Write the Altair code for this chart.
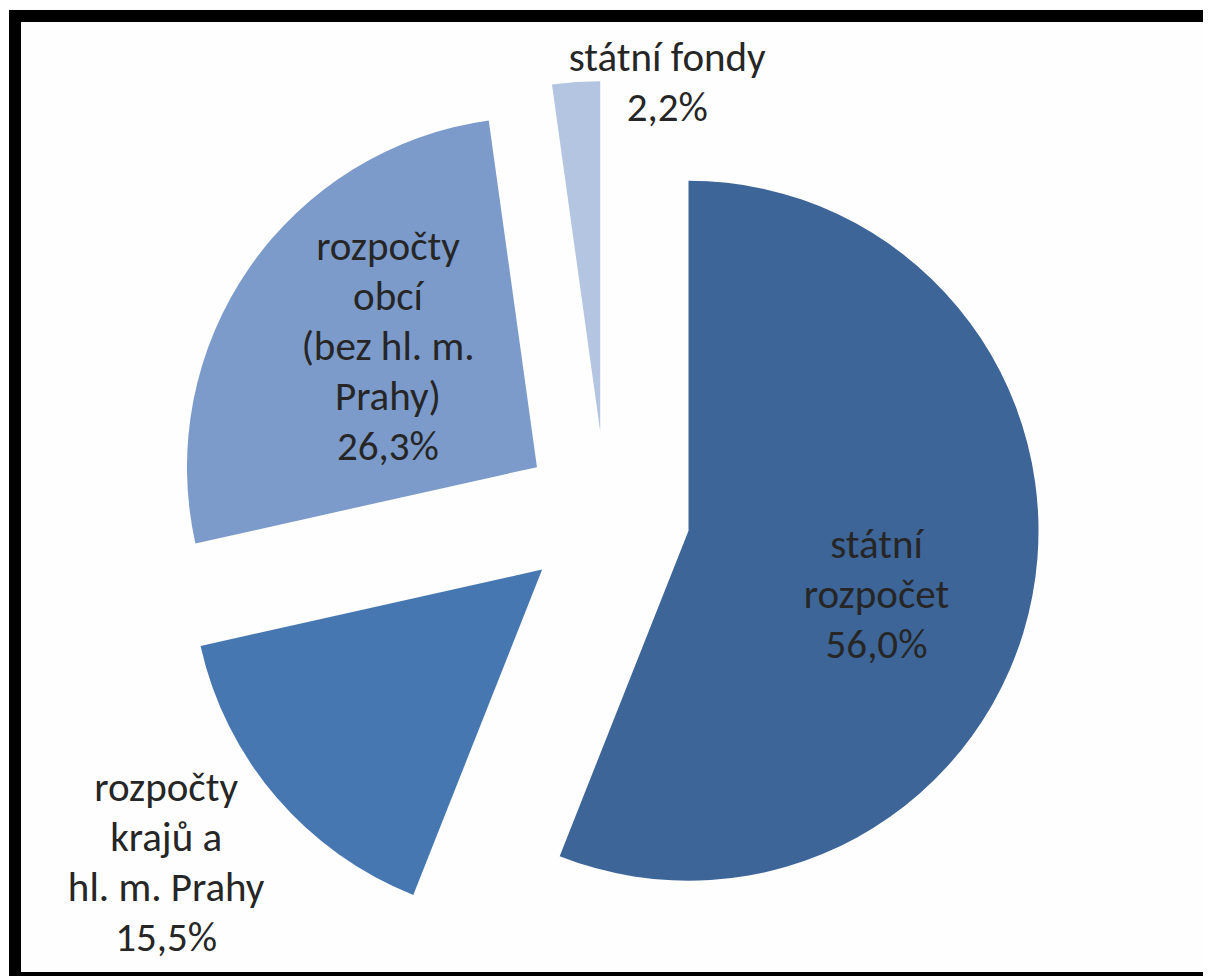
import math
import altair as alt
import pandas as pd

# ---- data ----
categories = [
    "státní rozpočet",
    "rozpočty krajů a hl. m. Prahy",
    "rozpočty obcí (bez hl. m. Prahy)",
    "státní fondy",
]
shares = [56.0, 15.5, 26.3, 2.2]
label_names = [
    "státní|rozpočet",
    "rozpočty|krajů a|hl. m. Prahy",
    "rozpočty|obcí|(bez hl. m.|Prahy)",
    "státní fondy",
]
colors = ["#3D6597", "#4677B0", "#7C9BCA", "#B3C5E1"]

# ---- layout ----
W, H = 1195, 968
CX, CY = 598, 507
R = 350
EXPLODE = 84
LH = 50
label_dx = [188, -376, -149, 67]
label_dy = [65, 294, -119, -347]

df = pd.DataFrame({
    "idx": list(range(len(categories))),
    "category": categories,
    "share": shares,
    "label": [n + "|" + f"{v:.1f}".replace(".", ",") + "%" for n, v in zip(label_names, shares)],
    "ldx": label_dx,
    "ldy": label_dy,
})

xs = alt.Scale(domain=[0, W], range=[0, W])
ys = alt.Scale(domain=[0, H], range=[0, H])

base = (
    alt.Chart(df)
    .transform_joinaggregate(total="sum(share)")
    .transform_window(cum="sum(share)", sort=[alt.SortField("idx")], frame=[None, 0])
    .transform_calculate(mid="2*PI*(datum.cum - datum.share/2)/datum.total")
    .transform_calculate(
        ox=f"{CX} + {EXPLODE}*sin(datum.mid)",
        oy=f"{CY} - {EXPLODE}*cos(datum.mid)",
    )
)

arcs = base.mark_arc(outerRadius=R).encode(
    theta=alt.Theta("share:Q", stack=True),
    order=alt.Order("idx:Q"),
    x=alt.X("ox:Q", scale=xs, axis=None),
    y=alt.Y("oy:Q", scale=ys, axis=None),
    color=alt.Color("category:N", scale=alt.Scale(domain=categories, range=colors), legend=None),
)

texts = (
    base.transform_calculate(lines="split(datum.label, '|')")
    .transform_calculate(
        lx="datum.ox + datum.ldx",
        ly=f"datum.oy + datum.ldy - (length(datum.lines) - 1) * {LH} / 2",
    )
    .mark_text(
        font="Carlito, Lato",
        fontSize=41,
        lineHeight=LH,
        color="#262626",
        align="center",
        baseline="middle",
    )
    .encode(
        x=alt.X("lx:Q", scale=xs, axis=None),
        y=alt.Y("ly:Q", scale=ys, axis=None),
        text=alt.Text("lines:N"),
    )
)

border = (
    alt.Chart(pd.DataFrame({"k": [0]}))
    .mark_rect(fillOpacity=0, stroke="black", strokeWidth=12)
    .encode(x=alt.value(7), x2=alt.value(W + 30), y=alt.value(8), y2=alt.value(H + 2))
)

chart = (
    alt.layer(arcs, texts, border)
    .properties(width=W, height=H, autosize=alt.AutoSizeParams(type="none"), padding=0, background="#FEFEFE")
    .configure_view(strokeOpacity=0)
)

chart.save("out.html", embed_options={"renderer": "svg", "actions": False})
